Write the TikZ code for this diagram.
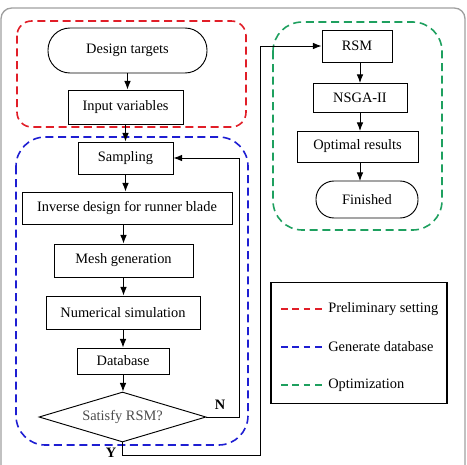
\documentclass[tikz,border=0pt]{standalone}
\usepackage{fontspec}
\setmainfont{Liberation Serif}
\usetikzlibrary{arrows.meta,shapes.geometric}
\definecolor{grpred}{RGB}{225,30,40}
\definecolor{grpblue}{RGB}{30,30,210}
\definecolor{grpgreen}{RGB}{30,160,95}
\tikzset{
  box/.style={draw=black,line width=0.7pt,rectangle,inner sep=0pt,font=\fontsize{10.8}{12}\selectfont},
  term/.style={box,rounded corners=#1},
  arr/.style={-{Latex[length=6.5pt,width=5pt]},line width=0.7pt},
  grp/.style={line width=1.2pt,dash pattern=on 6pt off 3.5pt},
  lbl/.style={font=\fontsize{10.8}{12}\selectfont,inner sep=0pt,anchor=west},
}
\begin{document}
\begin{tikzpicture}[x=0.75pt,y=-0.75pt]
\useasboundingbox (0,0) rectangle (467,464);
\begin{scope}
\clip (0,0) rectangle (467,464);
\draw[gray!75,line width=1pt,rounded corners=8pt] (1,8) rectangle (465,520);
\end{scope}
% group frames
\draw[grp,grpred,rounded corners=11pt] (17,21) rectangle (246,127);
\draw[grp,grpblue,rounded corners=22pt] (16,137) rectangle (248,445);
\draw[grp,grpgreen,rounded corners=22pt] (273,22) rectangle (442,230);
% left column
\node[term=16.5pt,minimum width=119.25pt,minimum height=33.75pt] (dt) at (127.5,50.5) {Design targets};
\node[box,minimum width=86.25pt,minimum height=25.5pt] (iv) at (125.5,107) {Input variables};
\node[box,fill=white,minimum width=71.25pt,minimum height=24pt] (samp) at (125.5,158) {Sampling};
\node[box,minimum width=157.5pt,minimum height=24pt] (inv) at (127,208) {Inverse design for runner blade};
\node[box,minimum width=104.25pt,minimum height=24.75pt] (mesh) at (123.5,260.5) {Mesh generation};
\node[box,minimum width=115.5pt,minimum height=24.75pt] (num) at (123,312.5) {Numerical simulation};
\node[box,minimum width=69pt,minimum height=19.5pt] (db) at (123,361) {Database};
\node[box,diamond,shape aspect=3.34,minimum width=125.25pt,minimum height=37.5pt,text=black!70] (dia) at (122.5,417) {Satisfy RSM?};
% right column
\node[box,minimum width=52.5pt,minimum height=24pt] (rsm) at (357,46) {RSM};
\node[box,minimum width=70.5pt,minimum height=21.75pt] (nsga) at (360,97.5) {NSGA-II};
\node[box,minimum width=90.75pt,minimum height=23.25pt] (opt) at (357.5,146.5) {Optimal results};
\node[term=13.5pt,minimum width=76.5pt,minimum height=27.75pt] (fin) at (367,199.5) {Finished};
% arrows left
\draw[arr] (dt.south) -- (dt.south |- iv.north);
\draw[arr] (iv.south) -- (iv.south |- samp.north);
\draw[arr] (samp.south) -- (samp.south |- inv.north);
\draw[arr] (mesh.north |- inv.south) -- (mesh.north);
\draw[arr] (mesh.south) -- (mesh.south |- num.north);
\draw[arr] (num.south) -- (num.south |- db.north);
\draw[arr] (db.south) -- (db.south |- dia.north);
% arrows right
\draw[arr] (360,62) -- (360,83);
\draw[arr] (360,112) -- (360,131);
\draw[arr] (360,162) -- (360,181);
% loops
\coordinate (nc) at (239,417);
\draw[arr] (dia.east) -- (nc) |- (samp.east);
\coordinate (yc1) at (122.5,455);
\coordinate (yc2) at (260,455);
\draw[arr] (dia.south) -- (yc1) -- (yc2) |- (rsm.west);
\node[font=\bfseries\fontsize{10.8}{12}\selectfont,inner sep=0pt] (nl) at (220,405) {N};
\node[font=\bfseries\fontsize{10.8}{12}\selectfont,inner sep=0pt] (yl) at (111,453) {Y};
% legend
\node[draw=black,line width=0.8pt,rectangle,minimum width=132pt,minimum height=90.75pt,inner sep=0pt] (leg) at (359,343) {};
\coordinate (l1a) at (281,309); \coordinate (l1b) at (323,309);
\coordinate (l2a) at (281,347); \coordinate (l2b) at (323,347);
\coordinate (l3a) at (281,385); \coordinate (l3b) at (323,385);
\draw[grpred,line width=1pt,dash pattern=on 5pt off 3.5pt] (l1a) -- (l1b);
\draw[grpblue,line width=1pt,dash pattern=on 5pt off 3.5pt] (l2a) -- (l2b);
\draw[grpgreen,line width=1pt,dash pattern=on 5pt off 3.5pt] (l3a) -- (l3b);
\node[lbl] (t1) at (328,309) {Preliminary setting};
\node[lbl] (t2) at (328,347) {Generate database};
\node[lbl] (t3) at (328,385) {Optimization};
\end{tikzpicture}
\end{document}
